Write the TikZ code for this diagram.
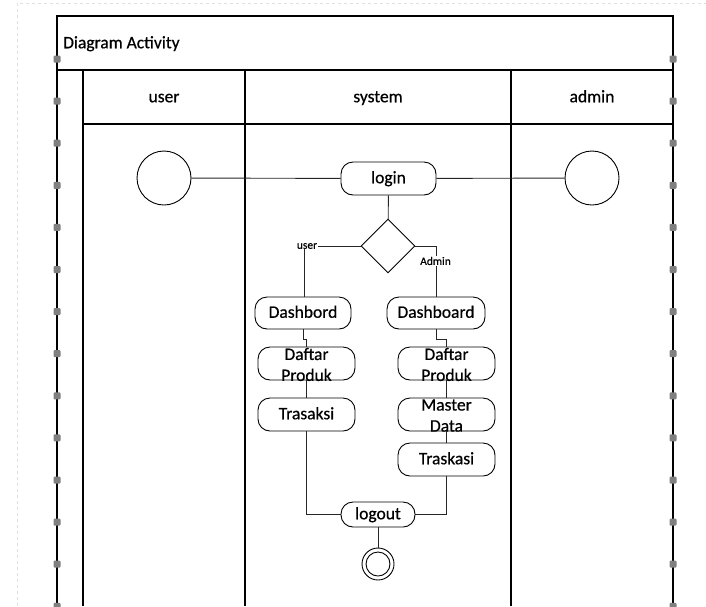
\documentclass[tikz,border=0pt]{standalone}
\usepackage{fontspec}
\setmainfont[FakeBold=0.6]{Carlito}
\usetikzlibrary{shapes.geometric}
\begin{document}
\begin{tikzpicture}[x=1pt,y=-1pt,
 frame/.style={line width=1.3pt, black},
 act/.style={draw, rounded corners=12pt, line width=0.9pt, minimum width=97pt, minimum height=33pt, inner sep=0pt},
 conn/.style={line width=0.9pt, draw=black!85},
 handle/.style={fill=gray, rounded corners=1pt, minimum size=7pt, inner sep=0pt},
 big/.style={font=\fontsize{17.5}{21}\selectfont, align=center, inner sep=0pt},
 one/.style={big, text height=8.5pt, text depth=0pt},
 small/.style={font=\fontsize{11.5}{13}\selectfont, fill=white, inner sep=0.6pt},
 state/.style={draw, circle, line width=0.9pt, minimum size=54pt, inner sep=0pt}
]
\useasboundingbox (0,0) rectangle (706,606);
% page border
\draw[gray!25, dashed, line width=0.8pt] (17,606) -- (17,3) -- (706,3);
% frame
\draw[frame] (57,606) -- (57,16) -- (673,16) -- (673,606);
\draw[frame] (57,70) -- (673,70);
\draw[frame] (83,124) -- (673,124);
\foreach \x in {83,245,511} \draw[frame] (\x,70) -- (\x,606);
\node[one, anchor=west] (title) at (63,44) {Diagram Activity};
\node[one] (luser) at (164,98) {user};
\node[one] (lsys) at (378,98) {system};
\node[one] (ladmin) at (592,98) {admin};
% handles
\foreach \k in {0,...,13} {
  \node[handle] (hl\k) at (57,{59+42.1*\k}) {};
  \node[handle] (hr\k) at (673,{59+42.1*\k}) {};
}
% nodes
\node[state] (startU) at (164,178) {};
\node[state] (startA) at (592,178) {};
\node[act, minimum width=95pt] (login) at (388.5,178.5) {};
\node[one] (tlogin) at (388.5,179) {login};
\node[draw, diamond, aspect=1, minimum width=54pt, minimum height=54pt, inner sep=0pt, line width=0.9pt] (dec) at (388,246) {};
\node[act, minimum width=96pt, minimum height=32pt] (dashL) at (303,313) {};
\node[one] (tdashL) at (303,313.5) {Dashbord};
\node[act, minimum width=98pt, minimum height=32pt] (dashR) at (436,313) {};
\node[one] (tdashR) at (436,313.5) {Dashboard};
\node[act] (daftL) at (306.5,363.5) {};
\node[big] (tdaftL) at (306.5,364.5) {Daftar\\Produk};
\node[act] (daftR) at (446.5,363.5) {};
\node[big] (tdaftR) at (446.5,364.5) {Daftar\\Produk};
\node[act] (trasL) at (306.5,414.5) {};
\node[one] (ttrasL) at (306.5,415) {Trasaksi};
\node[act] (mast) at (446.5,414.5) {};
\node[big] (tmast) at (446.5,415.5) {Master\\Data};
\node[act] (trasR) at (446.5,459.5) {};
\node[one] (ttrasR) at (446.5,460) {Traskasi};
\node[act, minimum width=74pt, minimum height=25pt] (logout) at (378,514.5) {};
\node[one] (tlogout) at (378,515) {logout};
\node[draw, circle, line width=0.9pt, minimum size=32pt, inner sep=0pt] (endc) at (378,564) {};
\node[draw, circle, line width=0.9pt, minimum size=24pt, inner sep=0pt] (endin) at (378,564) {};
% connectors
\coordinate (cu) at (304,246);
\coordinate (ca) at (436,246);
\draw[conn] (startU) -- (login);
\draw[conn] (startA) -- (login);
\draw[conn] (login) -- (dec);
\draw[conn] (dec.west) -- (cu) -- (cu |- dashL.north);
\draw[conn] (dec.east) -- (ca) -- (ca |- dashR.north);
\draw[conn] (dashL.south) -- ++(0,10) -| (daftL.north);
\draw[conn] (dashR.south) -- ++(0,10) -| (daftR.north);
\draw[conn] (daftL) -- (trasL);
\draw[conn] (daftR) -- (mast);
\draw[conn] (mast) -- (trasR);
\draw[conn] (trasL.south) |- (logout.west);
\draw[conn] (trasR.south) |- (logout.east);
\draw[conn] (logout) -- (endc);
\node[small] (luserb) at (307,246) {user};
\node[small] (ladminb) at (435.5,261) {Admin};
\end{tikzpicture}
\end{document}
